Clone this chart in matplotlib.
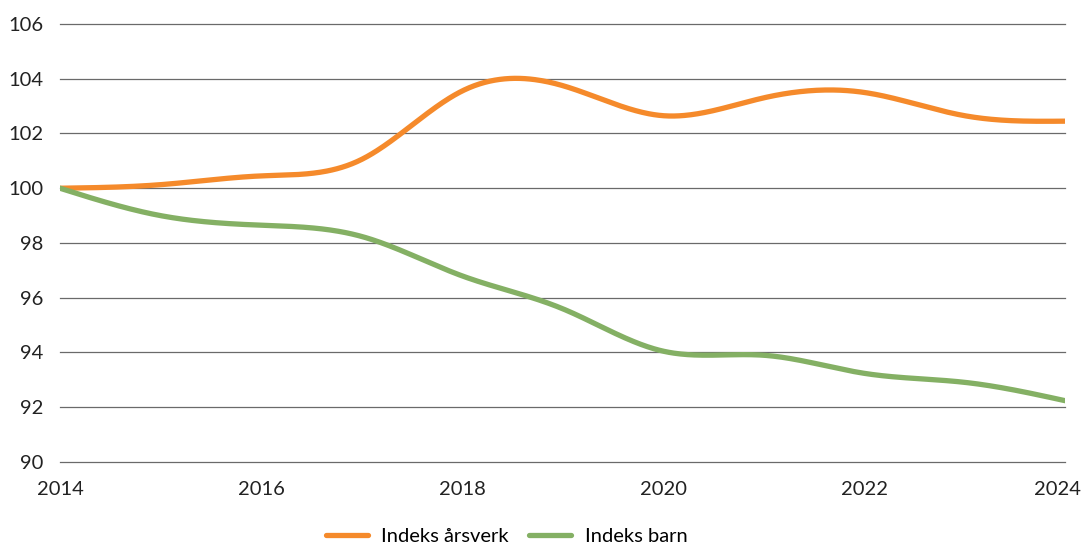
import numpy as np
import matplotlib.pyplot as plt
import matplotlib.transforms as mtransforms
from matplotlib.lines import Line2D

plt.rcParams['font.family'] = ['Lato', 'DejaVu Sans']

years = [2014, 2015, 2016, 2017, 2018, 2019, 2020, 2021, 2022, 2023, 2024]
indeks_arsverk = [100.0, 100.13, 100.45, 101.05, 103.55, 103.75, 102.65, 103.3, 103.5, 102.65, 102.45]
indeks_barn = [100.0, 99.0, 98.65, 98.24, 96.8, 95.6, 94.05, 93.9, 93.24, 92.91, 92.24]

series_names = ["Indeks årsverk", "Indeks barn"]
series_colors = ["#f58a2b", "#84b064"]


def natural_spline(x, y, n=600):
    """Natural cubic spline through (x, y), evaluated on a dense grid."""
    x = np.asarray(x, dtype=float)
    y = np.asarray(y, dtype=float)
    k = len(x)
    h = np.diff(x)
    A = np.zeros((k, k))
    b = np.zeros(k)
    A[0, 0] = 1
    A[-1, -1] = 1
    for i in range(1, k - 1):
        A[i, i - 1] = h[i - 1]
        A[i, i] = 2 * (h[i - 1] + h[i])
        A[i, i + 1] = h[i]
        b[i] = 6 * ((y[i + 1] - y[i]) / h[i] - (y[i] - y[i - 1]) / h[i - 1])
    M = np.linalg.solve(A, b)
    xs = np.linspace(x[0], x[-1], n)
    idx = np.clip(np.searchsorted(x, xs) - 1, 0, k - 2)
    x0, x1 = x[idx], x[idx + 1]
    hh = x1 - x0
    t0, t1 = x1 - xs, xs - x0
    ys = (M[idx] * t0 ** 3 + M[idx + 1] * t1 ** 3) / (6 * hh) \
        + (y[idx] / hh - M[idx] * hh / 6) * t0 \
        + (y[idx + 1] / hh - M[idx + 1] * hh / 6) * t1
    return xs, ys


fig = plt.figure(figsize=(10.85, 5.45), dpi=100)
ax = fig.add_axes([0.0553, 0.1523, 0.9263, 0.8037])

for yv in np.arange(90, 107, 2):
    ax.axhline(yv, color="#6a6a6a", lw=0.9, zorder=1, clip_on=False)

for vals, color in zip([indeks_arsverk, indeks_barn], series_colors):
    xs, ys = natural_spline(years, vals)
    ax.plot(xs, ys, color=color, lw=3.8, solid_capstyle="round", zorder=3)

ax.set_xlim(2014, 2024)
ax.set_ylim(90, 106)
ax.set_yticks(np.arange(90, 107, 2))
ax.set_xticks(range(2014, 2025, 2))
ax.tick_params(axis="both", length=0, labelsize=14.5, colors="#222222")
ax.tick_params(axis="y", pad=12)
ax.tick_params(axis="x", pad=14)
for s in ax.spines.values():
    s.set_visible(False)

# nudge the last year label inward so it stays inside the figure
last = ax.get_xticklabels()[-1]
last.set_transform(last.get_transform() + mtransforms.ScaledTranslation(-0.08, 0, fig.dpi_scale_trans))

handles = [Line2D([0], [0], color=c, lw=3.8, solid_capstyle="round") for c in series_colors]
fig.legend(handles, series_names, loc="center", bbox_to_anchor=(0.467, 0.016),
           ncol=2, frameon=False, fontsize=14.5, handlelength=2.1,
           columnspacing=1.0, handletextpad=0.65, borderaxespad=0, borderpad=0)

fig.savefig("out.png", dpi=100)
